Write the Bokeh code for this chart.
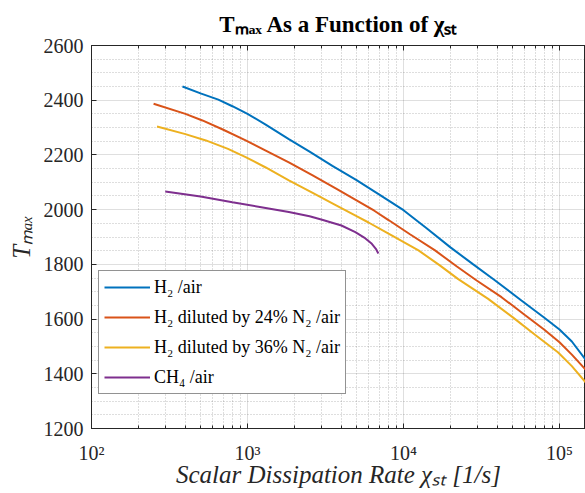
from bokeh.plotting import figure
from bokeh.models import FixedTicker, LogAxis, Legend, LegendItem, Range1d, CustomJSTickFormatter
from bokeh.embed import file_html
from bokeh.resources import INLINE

# ---------------- data ----------------
chi_h2 = [383, 500, 650, 800, 1000, 1300, 1840, 2500, 3500, 5000, 7000, 10000, 14000,
          20000, 28000, 38500, 57000, 80000, 100000, 120000, 147000]
T_h2 = [2450, 2425, 2402, 2378, 2350, 2312, 2258, 2212, 2160, 2108, 2055, 1998, 1933,
        1862, 1800, 1742, 1668, 1605, 1562, 1518, 1452]

chi_h2n24 = [250, 400, 514, 700, 973, 1300, 1841, 2600, 3700, 5000, 6500, 8017, 11000,
             15930, 22000, 29450, 42500, 60000, 80000, 100000, 120000, 147000]
T_h2n24 = [2387, 2350, 2326, 2292, 2253, 2217, 2173, 2126, 2077, 2034, 1996, 1962, 1910,
           1851, 1792, 1741, 1680, 1615, 1561, 1515, 1470, 1415]

chi_h2n36 = [263, 400, 541, 750, 973, 1300, 1841, 2600, 3700, 5000, 5970, 8017, 12480,
             17000, 22440, 34900, 50000, 70000, 97700, 120000, 147000]
T_h2n36 = [2304, 2276, 2253, 2222, 2192, 2155, 2107, 2062, 2016, 1976, 1953, 1912, 1851,
           1797, 1746, 1674, 1607, 1542, 1479, 1428, 1369]

chi_ch4 = [297, 500, 800, 1200, 1841, 2500, 3007, 4000, 4913, 5600, 6266, 6650, 6900]
T_ch4 = [2066, 2048, 2027, 2010, 1991, 1976, 1963, 1942, 1918, 1898, 1875, 1857, 1840]

series_labels = ["H\u2082 /air", "H\u2082 diluted by 24% N\u2082 /air",
                 "H\u2082 diluted by 36% N\u2082 /air", "CH\u2084 /air"]
series_colors = ["#0072BD", "#D95319", "#EDB120", "#7E2F8E"]

x_major = [100, 1000, 10000, 100000]
x_tick_labels = ["10\u00b2", "10\u00b3", "10\u2074", "10\u2075"]
x_minor = [m * 10 ** k for k in range(2, 6) for m in range(2, 10)]
y_major = list(range(1200, 2601, 200))
y_minor = [v for v in range(1200, 2601, 50) if v % 200]

title_text = "T\u2098\u2090\u2093 As a Function of \u03c7\u209b\u209c"
x_label = "Scalar Dissipation Rate \u03c7\u209b\u209c [1/s]"
y_label = "T\u2098\u2090\u2093"

FONT = "Liberation Serif"
AX = "#262626"

p = figure(width=585, height=493, x_axis_type="log",
           x_range=Range1d(100, 1.468e5), y_range=Range1d(1200, 2600),
           output_backend="svg", toolbar_location=None, title=title_text,
           min_border_left=91, min_border_right=0, min_border_top=45,
           min_border_bottom=65)
p.background_fill_color = "white"
p.border_fill_color = "white"
p.outline_line_color = AX
p.outline_line_width = 1

p.title.text_font = FONT
p.title.text_font_size = "23px"
p.title.text_font_style = "bold"
p.title.text_color = "black"
p.title.align = "center"
p.title.offset = 5
p.title.standoff = 18

xt = FixedTicker(ticks=x_major, minor_ticks=x_minor)
yt = FixedTicker(ticks=y_major, minor_ticks=y_minor)
blank = CustomJSTickFormatter(code="return '';")

xa = p.xaxis[0]
xa.ticker = xt
xa.major_label_overrides = dict(zip(x_major, x_tick_labels))
xa.major_label_text_font = FONT
xa.major_label_text_font_size = "20px"
xa.major_label_text_color = AX
xa.major_label_standoff = 13
xa.major_tick_in = 5
xa.major_tick_out = 0
xa.minor_tick_in = 3
xa.minor_tick_out = 0
xa.axis_line_color = AX
xa.major_tick_line_color = AX
xa.minor_tick_line_color = AX
xa.axis_label = x_label
xa.axis_label_text_font = FONT
xa.axis_label_text_font_size = "25px"
xa.axis_label_text_font_style = "italic"
xa.axis_label_text_color = AX
xa.axis_label_standoff = -6

top = LogAxis(ticker=xt, formatter=blank, major_label_standoff=0,
              major_tick_in=5, major_tick_out=0, minor_tick_in=3, minor_tick_out=0,
              axis_line_color=AX, major_tick_line_color=AX, minor_tick_line_color=AX)
p.add_layout(top, "above")

ya = p.yaxis[0]
ya.ticker = yt
ya.major_label_text_font = FONT
ya.major_label_text_font_size = "20px"
ya.major_label_text_color = AX
ya.major_label_standoff = 8
ya.major_tick_in = 5
ya.major_tick_out = 0
ya.minor_tick_in = 0
ya.minor_tick_out = 0
ya.axis_line_color = AX
ya.major_tick_line_color = AX
ya.axis_label = y_label
ya.axis_label_text_font = FONT
ya.axis_label_text_font_size = "25px"
ya.axis_label_text_font_style = "italic"
ya.axis_label_text_color = AX
ya.axis_label_standoff = 6

for g, t in ((p.xgrid[0], xt), (p.ygrid[0], yt)):
    g.ticker = t
    g.grid_line_color = AX
    g.grid_line_alpha = 0.15
    g.minor_grid_line_color = AX
    g.minor_grid_line_alpha = 0.3
    g.minor_grid_line_dash = "1 2"

renderers = []
for xs, ys, c in ((chi_h2, T_h2, series_colors[0]),
                  (chi_h2n24, T_h2n24, series_colors[1]),
                  (chi_h2n36, T_h2n36, series_colors[2]),
                  (chi_ch4, T_ch4, series_colors[3])):
    renderers.append(p.line(xs, ys, line_color=c, line_width=2))

legend = Legend(items=[LegendItem(label=l, renderers=[r]) for l, r in zip(series_labels, renderers)],
                location=(7, 34), label_text_font=FONT, label_text_font_size="18px",
                label_text_color="black", glyph_width=46, glyph_height=22, label_height=22,
                label_standoff=4, spacing=8, padding=5, margin=0,
                border_line_color=AX, border_line_width=1, background_fill_color="white",
                background_fill_alpha=1)
p.add_layout(legend)

open("out.html", "w").write(file_html(p, INLINE))
